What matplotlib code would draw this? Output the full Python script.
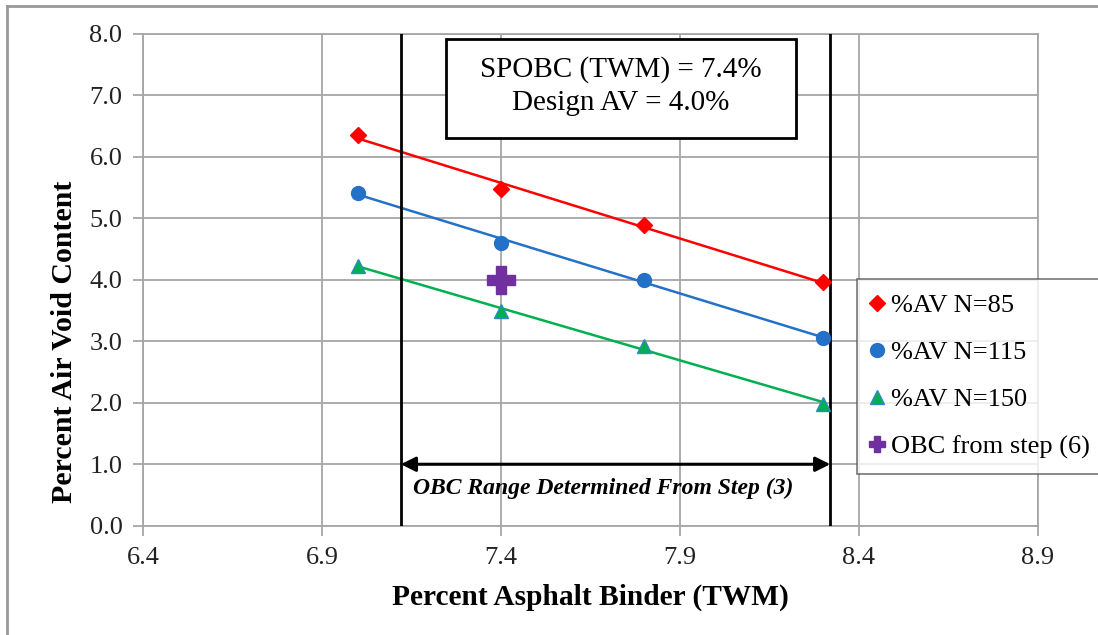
import numpy as np
import matplotlib
matplotlib.use('Agg')
import matplotlib.pyplot as plt
from matplotlib.patches import Rectangle
from matplotlib.lines import Line2D

plt.rcParams['font.family'] = ['Liberation Serif', 'DejaVu Serif']

# data
binder = [7.0, 7.4, 7.8, 8.3]
av_85 = [6.36, 5.47, 4.89, 3.96]
av_115 = [5.42, 4.60, 4.00, 3.06]
av_150 = [4.22, 3.50, 2.93, 1.98]
obc_x = [7.4]
obc_y = [4.0]
range_lo = 7.12
range_hi = 8.32
x_ticks = [6.4, 6.9, 7.4, 7.9, 8.4, 8.9]
y_ticks = [0, 1, 2, 3, 4, 5, 6, 7, 8]

fig = plt.figure(figsize=(10.98, 6.35), dpi=100)
ax = fig.add_axes([0.1305, 0.1721, 0.8146, 0.7744])

grid_c = '#a6a6a6'
series = [
    (av_85, '#ff0000', 'D', '%AV N=85', 8.5, '#ff0000'),
    (av_115, '#2471c8', 'o', '%AV N=115', 10, '#2471c8'),
    (av_150, '#00b050', '^', '%AV N=150', 10, '#2e8bc0'),
]
handles = []
xs = np.array(binder)
for vals, col, mk, lab, ms, ec in series:
    k, b = np.polyfit(xs, vals, 1)
    ax.plot(xs, k * xs + b, color=col, lw=1.8, zorder=3)
    ax.plot(binder, vals, ls='none', marker=mk, color=col, ms=ms, mec=ec, zorder=4)
    handles.append(Line2D([], [], ls='none', marker=mk, color=col, ms=ms, mec=ec, label=lab))

ax.plot(obc_x, obc_y, ls='none', marker='P', color='#7030a0', ms=20, zorder=5)
handles.append(Line2D([], [], ls='none', marker='P', color='#7030a0', ms=12, label='OBC from step (6)'))

ax.axvline(range_lo, color='k', lw=2, zorder=3)
ax.axvline(range_hi, color='k', lw=2, zorder=3)
ax.annotate('', xy=(range_hi, 1.0), xytext=(range_lo, 1.0),
            arrowprops=dict(arrowstyle='<|-|>', color='k', lw=2.2, shrinkA=0, shrinkB=0,
                            mutation_scale=22), zorder=4)
ax.text(0.514, 0.064, 'OBC Range Determined From Step (3)', transform=ax.transAxes,
        ha='center', va='baseline', fontsize=17, fontweight='bold', style='italic')

ax.add_patch(Rectangle((0.338, 0.788), 0.392, 0.202, transform=ax.transAxes,
                       facecolor='white', edgecolor='k', lw=2, zorder=6))
ax.text(0.534, 0.913, 'SPOBC (TWM) = 7.4%', transform=ax.transAxes, ha='center',
        va='baseline', fontsize=21, zorder=7)
ax.text(0.534, 0.845, 'Design AV = 4.0%', transform=ax.transAxes, ha='center',
        va='baseline', fontsize=21, zorder=7)

ax.set_xlim(6.4, 8.9)
ax.set_ylim(0, 8)
ax.set_xticks(x_ticks)
ax.set_xticklabels(['%.1f' % v for v in x_ticks])
ax.set_yticks(y_ticks)
ax.set_yticklabels(['%.1f' % v for v in y_ticks])
ax.grid(True, color=grid_c, lw=1.3)
ax.set_axisbelow(True)
for s in ax.spines.values():
    s.set_color(grid_c)
    s.set_linewidth(1.3)
ax.tick_params(axis='both', colors=grid_c, labelcolor='#222222', labelsize=19,
               length=7, width=1.3)
ax.tick_params(axis='y', pad=8)
ax.tick_params(axis='x', pad=8)

fig.text(0.059, 0.461, 'Percent Air Void Content', rotation=90, ha='center', va='center',
         fontsize=21.5, fontweight='bold')
fig.text(0.538, 0.047, 'Percent Asphalt Binder (TWM)', ha='center', va='baseline',
         fontsize=21.2, fontweight='bold')

leg = fig.legend(handles=handles, loc='upper left', bbox_to_anchor=(857 / 1098, 1 - 279 / 635),
                 bbox_transform=fig.transFigure, borderaxespad=0, fontsize=19, frameon=True,
                 fancybox=False, edgecolor='#555555', handletextpad=0.3, handlelength=0.45,
                 labelspacing=0.9, borderpad=0.55)
leg.get_frame().set_linewidth(1.2)

# outer frame (left and top edges visible)
fig.add_artist(Line2D([7 / 1098, 7 / 1098], [0, 1 - 6 / 635], transform=fig.transFigure,
                      color='#999999', lw=2))
fig.add_artist(Line2D([7 / 1098, 1], [1 - 6 / 635, 1 - 6 / 635], transform=fig.transFigure,
                      color='#999999', lw=2))

fig.savefig('out.png', dpi=100)
